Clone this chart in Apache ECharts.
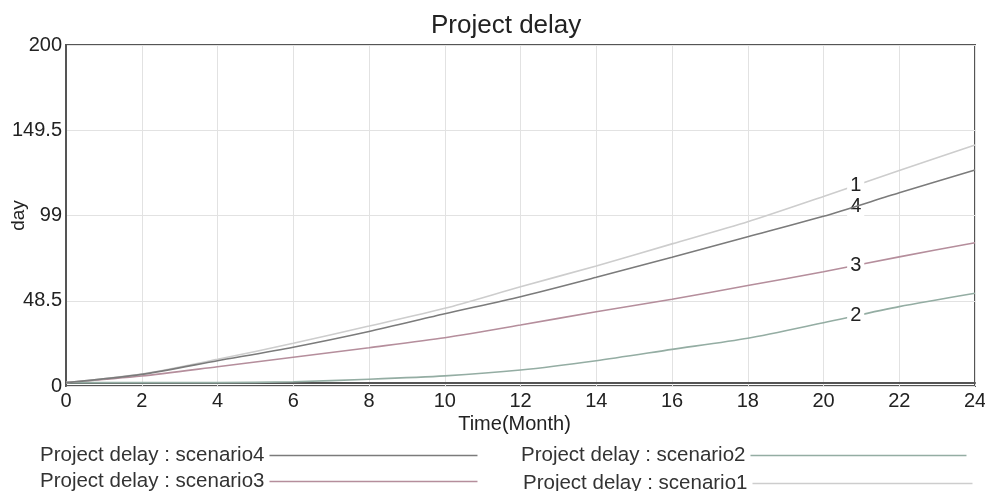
<!DOCTYPE html>
<html>
<head>
<meta charset="utf-8">
<script src="https://cdn.jsdelivr.net/npm/echarts@6/dist/echarts.min.js"></script>
<style>
html,body{margin:0;padding:0;background:#fff;}
#chart{width:985px;height:491px;}
</style>
</head>
<body>
<div id="chart"></div>
<script>
var months = [0, 2, 4, 6, 8, 10, 12, 14, 16, 18, 20, 22, 24];
var scenario1 = [0, 5.1, 13.8, 23.3, 33.5, 44.0, 56.8, 69.1, 82.2, 95.3, 110.3, 125.7, 140.8];
var scenario4 = [0, 4.9, 13.0, 21.0, 30.3, 40.8, 50.9, 62.4, 74.3, 86.4, 98.5, 112.5, 126.0];
var scenario3 = [0, 3.9, 9.4, 15.0, 20.7, 26.6, 34.1, 42.0, 49.4, 57.5, 65.7, 74.5, 82.9];
var scenario2 = [0, 0, 0, 0.5, 2, 4, 7.5, 13.0, 19.7, 26.3, 35.5, 45.0, 52.9];
var yTickLabels = ['0', '48.5', '99', '149.5', '200'];
var seriesNames = ['Project delay : scenario4', 'Project delay : scenario3', 'Project delay : scenario2', 'Project delay : scenario1'];
var curveTags = ['4', '3', '2', '1'];

var FONT = 'Liberation Sans, Arial, sans-serif';
var colors = ['#7b7b7b', '#b58e9c', '#94ada3', '#cdcdcd'];
var datasets = [scenario4, scenario3, scenario2, scenario1];
var tagMonth = 20.85;

function valueAt(arr, m) {
  for (var i = 0; i < months.length - 1; i++) {
    if (m >= months[i] && m <= months[i + 1]) {
      var t = (m - months[i]) / (months[i + 1] - months[i]);
      return arr[i] + t * (arr[i + 1] - arr[i]);
    }
  }
  return arr[arr.length - 1];
}

var series = datasets.map(function (arr, k) {
  return {
    name: seriesNames[k],
    type: 'line',
    smooth: 0.25,
    showSymbol: false,
    symbol: 'none',
    z: k === 0 ? 5 : 3,
    data: months.map(function (m, i) { return [m, arr[i]]; }),
    lineStyle: { color: colors[k], width: 1.6 },
    itemStyle: { color: colors[k] },
    markPoint: {
      symbol: 'circle',
      symbolSize: 0,
      silent: true,
      data: [{ coord: [tagMonth, valueAt(arr, tagMonth)] }],
      label: {
        show: true,
        position: 'inside',
        formatter: curveTags[k],
        fontFamily: FONT,
        fontSize: 20,
        color: '#222',
        backgroundColor: '#fff',
        padding: [0, 3, 0, 3]
      }
    }
  };
});

function legendAt(name, left, top, w) {
  return {
    data: [name],
    left: left,
    top: top,
    align: 'right',
    icon: 'rect',
    itemWidth: w,
    itemHeight: 1.5,
    itemGap: 0,
    selectedMode: false,
    textStyle: { fontFamily: FONT, fontSize: 20.5, color: '#333' }
  };
}

var chart = echarts.init(document.getElementById('chart'), null, { renderer: 'canvas' });
chart.setOption({
  animation: false,
  backgroundColor: '#fff',
  title: {
    text: 'Project delay',
    left: 426,
    top: 8,
    textStyle: { fontFamily: FONT, fontSize: 26, fontWeight: 'normal', color: '#222' }
  },
  legend: [
    legendAt(seriesNames[0], 35, 440, 208),
    legendAt(seriesNames[1], 35, 466, 208),
    legendAt(seriesNames[2], 516, 440, 216),
    legendAt(seriesNames[3], 518, 468, 220)
  ],
  grid: {
    left: 66, right: 10, top: 45, bottom: 105,
    outerBoundsMode: 'none',
    containLabel: false,
    show: true, borderColor: '#555', borderWidth: 2, backgroundColor: '#fff'
  },
  xAxis: {
    type: 'value',
    min: 0, max: 24, interval: 2,
    name: 'Time(Month)',
    nameLocation: 'middle',
    nameGap: 28,
    nameMoveOverlap: false,
    nameTextStyle: { fontFamily: FONT, fontSize: 20, color: '#222', padding: [0, 12, 0, 0] },
    axisLine: { show: true, lineStyle: { color: '#555', width: 2 } },
    axisTick: { show: false },
    axisLabel: { fontFamily: FONT, fontSize: 20, color: '#222', margin: 5 },
    splitLine: { show: true, lineStyle: { color: '#e2e2e2', width: 1 } }
  },
  yAxis: {
    type: 'value',
    min: -2, max: 200, interval: 50.5,
    name: 'day',
    nameLocation: 'middle',
    nameGap: 38,
    nameRotate: 90,
    nameMoveOverlap: false,
    nameTextStyle: { fontFamily: FONT, fontSize: 19, color: '#222' },
    axisLine: { show: true, lineStyle: { color: '#555', width: 2 } },
    axisTick: { show: false },
    axisLabel: {
      fontFamily: FONT, fontSize: 20, color: '#222', margin: 4,
      formatter: function (v, i) { return yTickLabels[i] !== undefined ? yTickLabels[i] : ''; }
    },
    splitLine: { show: true, lineStyle: { color: '#e2e2e2', width: 1 } }
  },
  series: series
});
</script>
</body>
</html>
